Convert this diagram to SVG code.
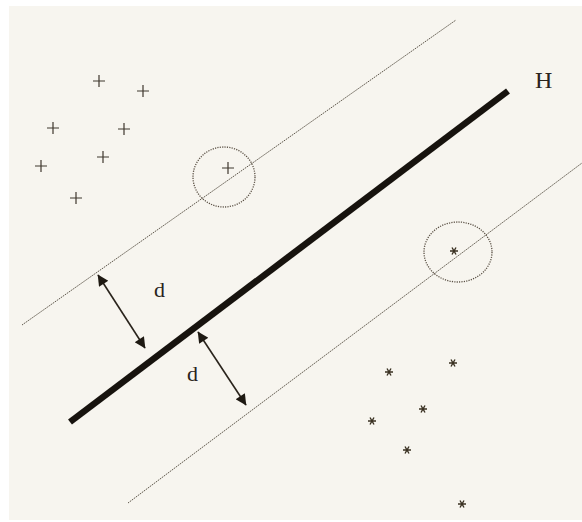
<svg xmlns="http://www.w3.org/2000/svg" width="582" height="522" viewBox="0 0 582 522">
<style>
.pl{stroke:#3f382e;stroke-width:1.2;fill:none}
.st{stroke:#3a3122;stroke-width:1.4;fill:none}
.mg{stroke:#5e574b;stroke-width:1;fill:none;stroke-dasharray:1.6 0.9}
.ci{stroke:#5a5044;stroke-width:1.3;fill:none;stroke-dasharray:1.2 1.2}
.ar{stroke:#2a241c;stroke-width:1.6;fill:none;marker-start:url(#ah);marker-end:url(#ah)}
.lb{font-family:"Liberation Serif",serif;fill:#2a241c}
</style>
<defs>
<marker id="ah" viewBox="0 0 10 10" refX="9.5" refY="5" markerWidth="13" markerHeight="11" markerUnits="userSpaceOnUse" orient="auto-start-reverse">
<path d="M0,0 L10,5 L0,10 z" fill="#1e1912"/>
</marker>
<g id="plus"><path class="pl" d="M-6,0 H6 M0,-6 V6"/></g>
<g id="star"><path class="st" d="M-4,0 H4 M-2,-3.5 L2,3.5 M2,-3.5 L-2,3.5"/></g>
</defs>
<rect width="582" height="522" fill="#ffffff"/>
<rect x="9" y="6" width="573" height="514" fill="#f7f5ef"/>
<g id="connectors">
<line class="mg" x1="22" y1="325" x2="456" y2="20"/>
<line class="mg" x1="128" y1="503" x2="582" y2="163"/>
<line x1="70" y1="422" x2="508" y2="91" stroke="#17130e" stroke-width="6.5" stroke-linecap="butt"/>
<line class="ar" x1="98" y1="275" x2="145" y2="348"/>
<line class="ar" x1="198" y1="332" x2="246" y2="405"/>
</g>
<g id="plus-class">
<use href="#plus" x="99" y="81"/>
<use href="#plus" x="143" y="91"/>
<use href="#plus" x="53" y="128"/>
<use href="#plus" x="124" y="129"/>
<use href="#plus" x="103" y="157"/>
<use href="#plus" x="41" y="166"/>
<use href="#plus" x="76" y="198"/>
<use href="#plus" x="228" y="168"/>
</g>
<g id="sv-plus"><ellipse class="ci" cx="224" cy="177" rx="31" ry="30"/></g>
<g id="star-class">
<use href="#star" x="454" y="251"/>
<use href="#star" x="389" y="372"/>
<use href="#star" x="453" y="363"/>
<use href="#star" x="423" y="409"/>
<use href="#star" x="372" y="421"/>
<use href="#star" x="407" y="450"/>
<use href="#star" x="462" y="504"/>
</g>
<g id="sv-star"><ellipse class="ci" cx="458" cy="252" rx="34" ry="30"/></g>
<g id="labels">
<text class="lb" x="535" y="88" font-size="24">H</text>
<text class="lb" x="154" y="297" font-size="22">d</text>
<text class="lb" x="187" y="381" font-size="22">d</text>
</g>
</svg>
